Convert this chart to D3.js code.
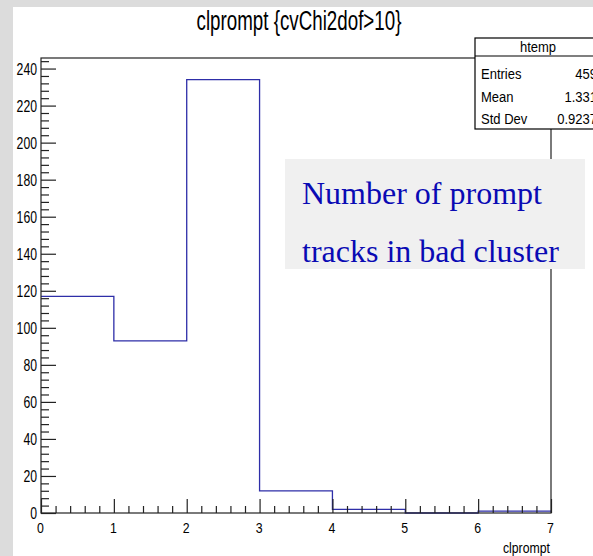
<!DOCTYPE html>
<html><head><meta charset="utf-8">
<script src="https://cdn.jsdelivr.net/npm/d3@7/dist/d3.min.js"></script>
<style>
html,body{margin:0;padding:0;background:#dcdcdc;overflow:hidden}
svg{display:block}
text{font-family:"Liberation Sans",Arial,Helvetica,sans-serif}
</style></head><body>
<svg id="c" width="593" height="556"></svg>
<script>
// ---- data ----
const binEdges = [0, 1, 2, 3, 4, 5, 6, 7];
const binCounts = [117, 93, 234, 12, 2, 0, 1];
const xTicks = [0, 1, 2, 3, 4, 5, 6, 7];
const yTicks = [0, 20, 40, 60, 80, 100, 120, 140, 160, 180, 200, 220, 240];
const statLabels = ["Entries", "Mean", "Std Dev"];
const statValues = ["459", "1.331", "0.9237"];
const title = "clprompt {cvChi2dof>10}";
const xTitle = "clprompt";
const statTitle = "htemp";
const noteLines = ["Number of prompt", "tracks in bad cluster"];

const svg = d3.select("#c");
const W = 593, H = 556;
const L = 41, R = 551, T = 58, B = 513;
const yMax = d3.max(binCounts) * 1.05;

// condensed text helper
function ctext(g, x, y, str, size, sx, anchor) {
  return g.append("text")
    .attr("transform", `translate(${x},${y}) scale(${sx},1)`)
    .attr("text-anchor", anchor || "start")
    .attr("font-size", size).attr("fill", "#000").text(str);
}

// pad
svg.append("rect").attr("x", 13).attr("y", 7).attr("width", W - 13).attr("height", H - 7).attr("fill", "#fff");

const x = d3.scaleLinear().domain([0, 7]).range([L, R]);
const y = d3.scaleLinear().domain([0, yMax]).range([B, T]);

// title
ctext(svg, 299, 30, title, 28, 0.67, "middle");

// histogram path
const pts = [];
binCounts.forEach((c, i) => {
  pts.push([x(binEdges[i]), y(c)]);
  pts.push([x(binEdges[i + 1]), y(c)]);
});
svg.append("path").attr("d", d3.line()(pts)).attr("fill", "none")
  .attr("stroke", "#2e2ea8").attr("stroke-width", 1.3);

// frame
svg.append("rect").attr("x", L).attr("y", T).attr("width", R - L).attr("height", B - T)
  .attr("fill", "none").attr("stroke", "#222").attr("stroke-width", 1.2);

// y axis major
const yAx = svg.append("g").attr("transform", `translate(${L},0)`)
  .call(d3.axisRight(y).tickValues(yTicks).tickSize(15).tickFormat(""));
yAx.select(".domain").remove();
yAx.selectAll("line").attr("stroke", "#222").attr("stroke-width", 1.2);
// y axis minor
const yMinor = d3.range(0, yMax, 4).filter(v => v % 20 !== 0);
const yAxm = svg.append("g").attr("transform", `translate(${L},0)`)
  .call(d3.axisRight(y).tickValues(yMinor).tickSize(8).tickFormat(""));
yAxm.select(".domain").remove();
yAxm.selectAll("line").attr("stroke", "#222").attr("stroke-width", 1.2);
// y labels
const yl = svg.append("g");
yTicks.forEach(d => ctext(yl, 37, y(d) + 6, d, 17, 0.72, "end"));

// x axis major
const xAx = svg.append("g").attr("transform", `translate(0,${B})`)
  .call(d3.axisTop(x).tickValues(xTicks).tickSize(14).tickFormat(""));
xAx.select(".domain").remove();
xAx.selectAll("line").attr("stroke", "#222").attr("stroke-width", 1.2);
const xMinor = d3.range(0, 7.001, 0.2).filter(v => Math.abs(v - Math.round(v)) > 1e-6);
const xAxm = svg.append("g").attr("transform", `translate(0,${B})`)
  .call(d3.axisTop(x).tickValues(xMinor).tickSize(7).tickFormat(""));
xAxm.select(".domain").remove();
xAxm.selectAll("line").attr("stroke", "#222").attr("stroke-width", 1.2);
const xl = svg.append("g");
xTicks.forEach(d => ctext(xl, x(d) - 0.5, 533, d, 14.5, 0.85, "middle"));
ctext(svg, 550, 553, xTitle, 15, 0.82, "end");

// stats box
const sb = svg.append("g");
const bx = 475, by = 38, bw = 130;
sb.append("rect").attr("x", bx).attr("y", by).attr("width", bw).attr("height", 91)
  .attr("fill", "#fff").attr("stroke", "#000").attr("stroke-width", 1.2);
sb.append("line").attr("x1", bx).attr("x2", bx + bw).attr("y1", 56).attr("y2", 56)
  .attr("stroke", "#000").attr("stroke-width", 1.2);
ctext(sb, 538, 52, statTitle, 15.5, 0.84, "middle");
statLabels.forEach((s, i) => {
  ctext(sb, 481, 79 + i * 22.5, s, 15.5, 0.84, "start");
  ctext(sb, 597, 79 + i * 22.5, statValues[i], 15.5, 0.84, "end");
});

// note box
svg.append("rect").attr("x", 285).attr("y", 159).attr("width", 300).attr("height", 110).attr("fill", "#f0f0f0");
noteLines.forEach((s, i) => {
  svg.append("text").attr("x", 302).attr("y", 204 + i * 58)
    .style("font-family", "'Liberation Serif','Times New Roman',serif")
    .attr("font-size", 32).attr("fill", "#0a0ab4").text(s);
});
</script>
</body></html>
